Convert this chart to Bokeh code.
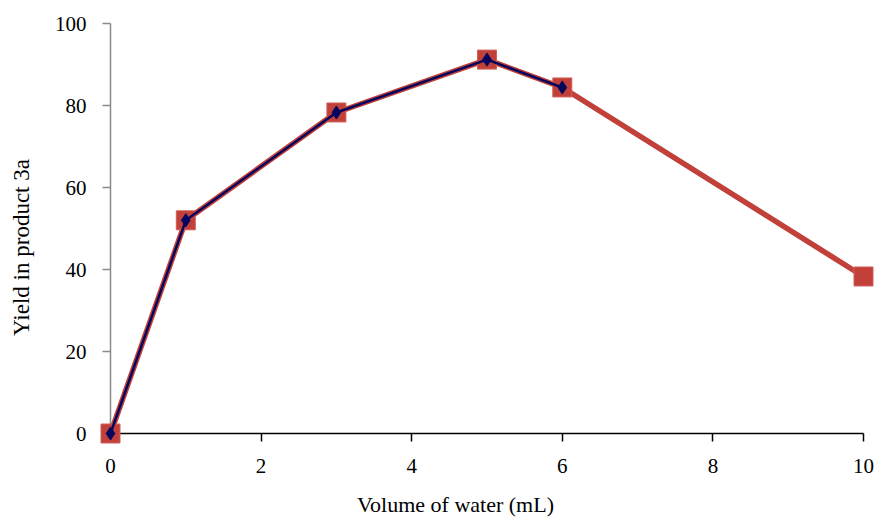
import math
from bokeh.plotting import figure
from bokeh.models import Range1d, FixedTicker
from bokeh.embed import file_html
from bokeh.resources import INLINE

# Data
water_red = [0, 1, 3, 5, 6, 10]
yield_red = [0, 52, 78.3, 91.2, 84.4, 38.3]
water_blue = [0, 1, 3, 5, 6]
yield_blue = [0, 52, 78.3, 91.2, 84.4]
x_ticks = [0, 2, 4, 6, 8, 10]
y_ticks = [0, 20, 40, 60, 80, 100]
x_title = "Volume of water (mL)"
y_title = "Yield in product 3a"

RED = "#C1403A"
NAVY = "#06065E"
FONT = "Liberation Serif"

p = figure(width=877, height=519, output_backend="svg", toolbar_location=None,
           x_range=Range1d(0, 10), y_range=Range1d(0, 100),
           min_border_left=110, min_border_right=14, min_border_top=23, min_border_bottom=86)
p.outline_line_color = None
p.xgrid.visible = False
p.ygrid.visible = False
p.background_fill_color = "white"
p.border_fill_color = "white"

# Red series
r1 = p.line(water_red, yield_red, line_color=RED, line_width=5.5)
r2 = p.scatter(water_red, yield_red, marker="square", size=19, fill_color=RED,
               line_color="#D0605A", line_width=1)
# Navy series
r3 = p.line(water_blue, yield_blue, line_color=NAVY, line_width=2.5)
r4 = p.scatter(water_blue, yield_blue, marker="diamond", size=13, fill_color=NAVY,
               line_color=NAVY)
for r in (r1, r2, r3, r4):
    r.level = "overlay"

xa = p.xaxis[0]
xa.ticker = FixedTicker(ticks=x_ticks)
xa.minor_tick_line_color = None
xa.axis_line_color = "black"
xa.axis_line_width = 1.5
xa.major_tick_line_color = "black"
xa.major_tick_line_width = 1.5
xa.major_tick_in = 0
xa.major_tick_out = 8
xa.major_label_standoff = 17
xa.major_label_text_font = FONT
xa.major_label_text_font_size = "21px"
xa.major_label_text_color = "black"

ya = p.yaxis[0]
ya.ticker = FixedTicker(ticks=y_ticks)
ya.minor_tick_line_color = None
ya.axis_line_color = "#8A8A8A"
ya.axis_line_width = 1.5
ya.major_tick_line_color = "#8A8A8A"
ya.major_tick_line_width = 1.5
ya.major_tick_in = 0
ya.major_tick_out = 8
ya.major_label_standoff = 16
ya.major_label_text_font = FONT
ya.major_label_text_font_size = "21px"
ya.major_label_text_color = "black"

# Axis titles: anchored at the axes' origin, shifted by pixel offsets
t1 = p.text(x=[x_ticks[0]], y=[y_ticks[0]], text=[x_title], x_offset=345, y_offset=71,
            text_font={"value": FONT}, text_font_size="22px", text_color="black",
            text_align="center", text_baseline="middle")
t2 = p.text(x=[x_ticks[0]], y=[y_ticks[0]], text=[y_title], x_offset=-89, y_offset=-186,
            angle=math.pi / 2, text_font={"value": FONT}, text_font_size="23px",
            text_color="black", text_align="center", text_baseline="middle")
t1.level = "overlay"
t2.level = "overlay"

open("out.html", "w").write(file_html(p, INLINE))
